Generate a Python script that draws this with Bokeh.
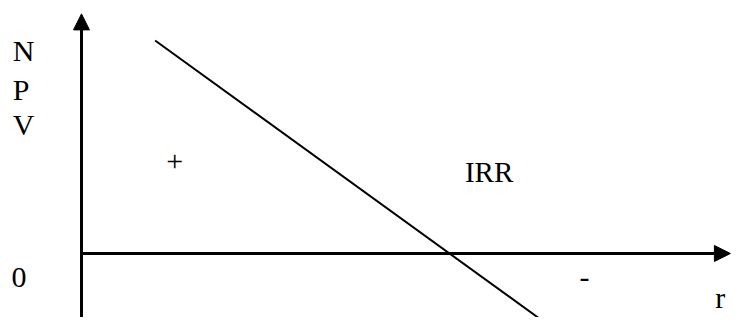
from bokeh.plotting import figure
from bokeh.models import Range1d, Arrow, NormalHead, ColumnDataSource
from bokeh.core.properties import value
from bokeh.embed import file_html
from bokeh.resources import INLINE

# Conceptual NPV profile: NPV falls as the discount rate r rises
rates = [2, 13]          # discount rate r (%)
npv = [10.0, -3.75]      # NPV at those rates
irr = 10                 # rate where NPV = 0

# axis labels / region labels
y_label_letters = ["N", "P", "V"]
y_label_npv = [9.52, 7.70, 6.06]
zero_label = "0"
x_label = "r"
irr_label = "IRR"
pos_label = "+"
neg_label = "-"

X0, X1 = -2.201, 17.663
Y0, Y1 = -3.005, 11.878

p = figure(width=731, height=317, x_range=Range1d(X0, X1), y_range=Range1d(Y0, Y1),
           output_backend="svg", toolbar_location=None, min_border=0,
           outline_line_color=None, background_fill_color="white",
           border_fill_color="white")
p.axis.visible = False
p.grid.visible = False

# axes as arrows
p.add_layout(Arrow(end=NormalHead(size=16, fill_color="black", line_color="black", line_width=1),
                   x_start=0, y_start=Y0 - 1, x_end=0, y_end=11.25,
                   line_width=3, line_color="black"))
p.add_layout(Arrow(end=NormalHead(size=16, fill_color="black", line_color="black", line_width=1),
                   x_start=0, y_start=0, x_end=X1 - 0.03, y_end=0,
                   line_width=3, line_color="black"))

# NPV profile line
p.line(rates, npv, line_width=2, line_color="black")

font = value("Liberation Serif")

src_npv = ColumnDataSource(dict(x=[-1.87] * 3, y=y_label_npv, t=y_label_letters))
p.text("x", "y", text="t", source=src_npv, text_font=font, text_font_size="30px",
       text_color="black", text_align="left", text_baseline="alphabetic")

p.text(x=[-1.905], y=[-1.11], text=[zero_label], text_font=font, text_font_size="30px",
       text_color="black", text_align="left", text_baseline="alphabetic")
p.text(x=[17.22], y=[-2.08], text=[x_label], text_font=font, text_font_size="30px",
       text_color="black", text_align="left", text_baseline="alphabetic")
p.text(x=[irr + 0.42], y=[3.84], text=[irr_label], text_font=font, text_font_size="29px",
       text_color="black", text_align="left", text_baseline="alphabetic")
p.text(x=[2.535], y=[4.31], text=[pos_label], text_font=font, text_font_size="30px",
       text_color="black", text_align="center", text_baseline="alphabetic")
p.text(x=[13.67], y=[-1.11], text=[neg_label], text_font=font, text_font_size="30px",
       text_color="black", text_align="center", text_baseline="alphabetic")

open("out.html", "w").write(file_html(p, INLINE))
